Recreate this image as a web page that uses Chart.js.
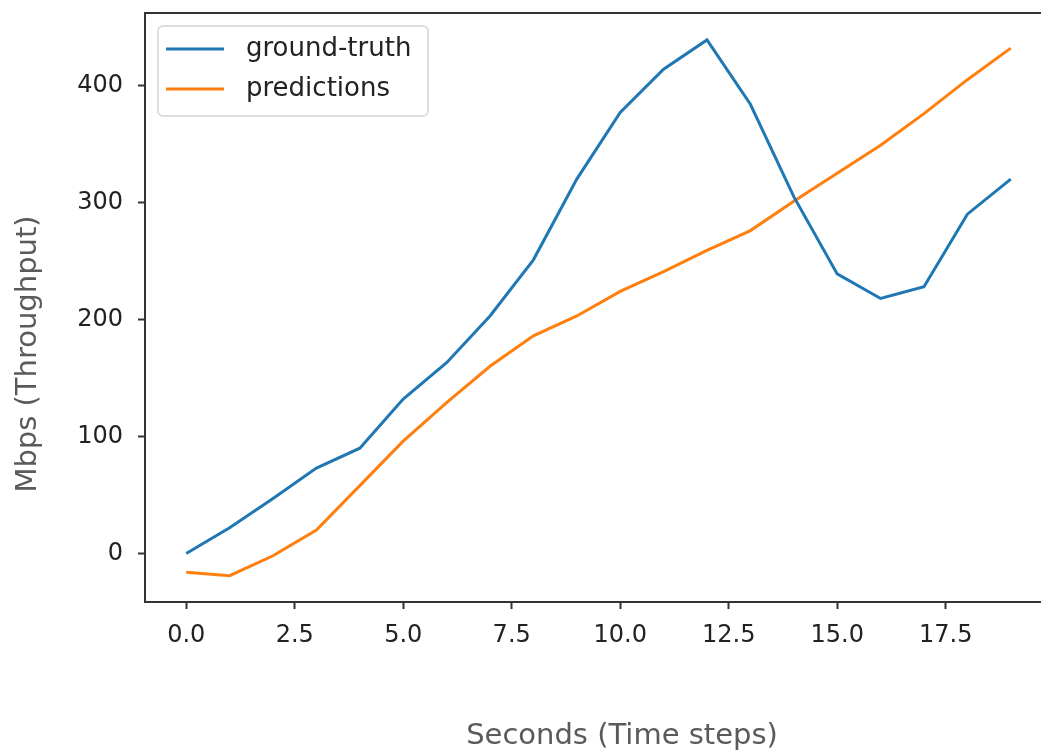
<!DOCTYPE html>
<html>
<head>
<meta charset="utf-8">
<script src="https://cdn.jsdelivr.net/npm/chart.js@4.4.0/dist/chart.umd.min.js"></script>
<style>
html, body { margin: 0; padding: 0; background: #fff; overflow: hidden; width: 1041px; height: 756px; }
canvas { display: block; }
</style>
</head>
<body>
<canvas id="myChart" width="1055" height="756"></canvas>
<script>
// time steps (seconds)
let timeSteps = [0, 1, 2, 3, 4, 5, 6, 7, 8, 9, 10, 11, 12, 13, 14, 15, 16, 17, 18, 19]
let groundTruth = [0, 22, 47, 73, 90, 132, 163, 203, 251, 320, 377, 414, 439, 384, 305, 239, 218, 228, 290, 320]
let predictions = [-16, -19, -2, 20, 58, 96, 129, 160, 186, 203, 224, 241, 259, 276, 301, 325, 349, 376, 405, 432]
let xTicks = [0, 2.5, 5, 7.5, 10, 12.5, 15, 17.5]
let yTicks = [0, 100, 200, 300, 400]

const tickFont = { family: '"DejaVu Sans", sans-serif', size: 24 }

const data = {
    datasets: [{
        label: 'ground-truth',
        data: timeSteps.map((t, i) => ({ x: t, y: groundTruth[i] })),
        borderColor: '#1f77b4',
        borderWidth: 3,
        pointRadius: 0,
        tension: 0
    }, {
        label: 'predictions',
        data: timeSteps.map((t, i) => ({ x: t, y: predictions[i] })),
        borderColor: '#ff7f0e',
        borderWidth: 3,
        pointRadius: 0,
        tension: 0
    }]
};

// frame, legend box and axis titles like the matplotlib original
const decorations = {
    id: 'decorations',
    afterDatasetsDraw(chart) {
        const { ctx, chartArea } = chart;
        ctx.save();
        ctx.strokeStyle = '#333';
        ctx.lineWidth = 2;
        ctx.strokeRect(chartArea.left, chartArea.top, chartArea.right - chartArea.left, chartArea.bottom - chartArea.top);

        const x0 = chartArea.left + 13, y0 = chartArea.top + 13;
        ctx.fillStyle = 'rgba(255,255,255,0.8)';
        ctx.strokeStyle = '#d4d4d4';
        ctx.lineWidth = 1.5;
        ctx.beginPath();
        ctx.roundRect(x0, y0, 270, 90, 5);
        ctx.fill();
        ctx.stroke();
        chart.data.datasets.forEach((ds, i) => {
            const y = y0 + 23 + i * 40;
            ctx.strokeStyle = ds.borderColor;
            ctx.lineWidth = 3;
            ctx.beginPath();
            ctx.moveTo(x0 + 8, y);
            ctx.lineTo(x0 + 66, y);
            ctx.stroke();
            ctx.fillStyle = '#222';
            ctx.font = '26px "DejaVu Sans"';
            ctx.textBaseline = 'middle';
            ctx.textAlign = 'left';
            ctx.fillText(ds.label, x0 + 88, y);
        });
        ctx.restore();
    },
    afterDraw(chart) {
        const { ctx } = chart;
        ctx.save();
        ctx.fillStyle = '#5a5a5a';
        ctx.font = '29px "DejaVu Sans"';
        ctx.textAlign = 'center';
        ctx.textBaseline = 'middle';
        ctx.fillText('Seconds (Time steps)', 622, 736);
        ctx.translate(28, 354);
        ctx.rotate(-Math.PI / 2);
        ctx.fillText('Mbps (Throughput)', 0, 0);
        ctx.restore();
    }
};

const config = {
    type: 'line',
    data: data,
    plugins: [decorations],
    options: {
        responsive: false,
        animation: false,
        devicePixelRatio: 1,
        layout: { padding: { top: 13, right: 3, left: 0, bottom: 0 } },
        plugins: {
            legend: { display: false },
            tooltip: { enabled: false }
        },
        scales: {
            x: {
                type: 'linear',
                min: -0.95,
                max: 19.95,
                afterBuildTicks: (scale) => { scale.ticks = xTicks.map((v) => ({ value: v })) },
                afterFit: (scale) => { scale.height = 154; scale.paddingLeft = 0; scale.paddingRight = 0 },
                grid: { drawOnChartArea: false, drawTicks: true, tickLength: 7, tickColor: '#333', tickWidth: 2 },
                border: { display: false },
                ticks: { font: tickFont, color: '#222', padding: 12, maxRotation: 0, callback: (v) => v.toFixed(1) }
            },
            y: {
                min: -41.5,
                max: 462,
                afterBuildTicks: (scale) => { scale.ticks = yTicks.map((v) => ({ value: v })) },
                afterFit: (scale) => { scale.width = 145; scale.paddingTop = 0; scale.paddingBottom = 0 },
                grid: { drawOnChartArea: false, drawTicks: true, tickLength: 7, tickColor: '#333', tickWidth: 2 },
                border: { display: false },
                ticks: { font: tickFont, color: '#222', padding: 15, callback: (v) => String(v) }
            }
        }
    }
};

const ctx = document.getElementById('myChart');
new Chart(ctx, config);
</script>
</body>
</html>
